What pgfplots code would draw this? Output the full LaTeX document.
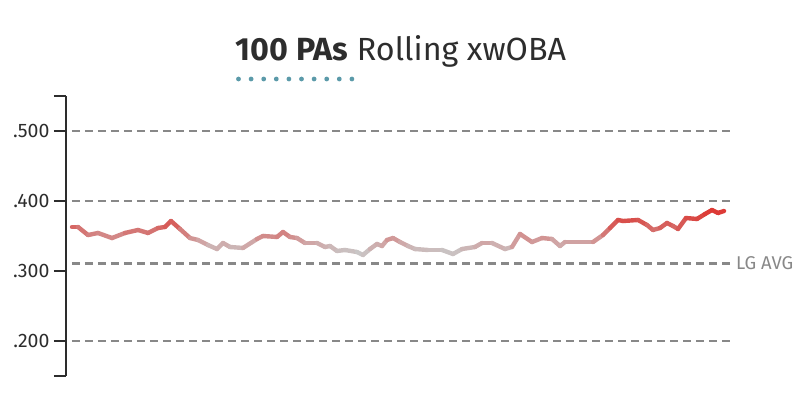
\documentclass[border=0pt]{standalone}
\usepackage{pgfplots}
\pgfplotsset{compat=1.18}
\usepackage{fontspec}
\setmainfont{Fira Sans}
\definecolor{txt}{RGB}{45,45,45}
\definecolor{grd}{RGB}{136,136,136}
\definecolor{dotc}{RGB}{91,154,169}
\begin{document}
\begin{tikzpicture}[x=1pt,y=1pt]
\useasboundingbox (0,0) rectangle (804,410);
\node[anchor=base,text=txt,inner sep=0pt] at (401,349)
  {\resizebox{330pt}{25pt}{\textbf{100 PAs} Rolling xwOBA}};
\draw[dotc,line width=4.8pt,line cap=round,dash pattern=on 0pt off 12.6pt] (238.5,331) -- (352,331);
\begin{axis}[
  at={(66pt,34pt)}, anchor=south west,
  scale only axis, width=667pt, height=280pt,
  xmin=66, xmax=733, ymin=0.15, ymax=0.55,
  axis x line=none,
  axis y line*=left,
  y axis line style={txt,line width=1.8pt,-},
  xtick=\empty,
  ytick={0.15,0.2,0.3,0.4,0.5,0.55},
  yticklabels={,.200,.300,.400,.500,},
  tick align=outside,
  major tick length=12pt,
  ytick style={txt,line width=1.8pt},
  yticklabel style={text=txt,font=\fontsize{19.5}{19.5}\selectfont,xshift=-1pt},
  /pgf/number format/assume math mode=true,
  clip=false,
  colormap={xw}{rgb255(0cm)=(200,200,200); rgb255(1cm)=(208,165,165); rgb255(2cm)=(212,120,118); rgb255(3cm)=(216,80,76); rgb255(4cm)=(222,55,50)},
  point meta min=0.325, point meta max=0.387,
]
\addplot[grd,line width=1.5pt,dash pattern=on 8pt off 5pt,forget plot] coordinates {(72,0.5) (733,0.5)};
\addplot[grd,line width=1.5pt,dash pattern=on 8pt off 5pt,forget plot] coordinates {(72,0.4) (733,0.4)};
\addplot[grd,line width=1.5pt,dash pattern=on 8pt off 5pt,forget plot] coordinates {(72,0.2) (733,0.2)};
\addplot[grd,line width=3pt,dash pattern=on 8pt off 5pt,forget plot] coordinates {(72,0.3114) (732,0.3114)};
\addplot[mesh,line width=4.4pt,line cap=round,line join=round,point meta=y,forget plot] coordinates {
(72,0.3629) (78,0.3629) (88,0.3514) (98,0.3543) (112,0.3471) (125,0.3543)
(138,0.3586) (148,0.3543) (158,0.3614) (165,0.3629) (171,0.3714) (180,0.3600)
(190,0.3471) (198,0.3443) (208,0.3371) (217,0.3314) (223,0.3400) (230,0.3343)
(243,0.3329) (257,0.3457) (263,0.3500) (277,0.3486) (283,0.3557) (290,0.3486)
(297,0.3471) (305,0.3400) (317,0.3400) (325,0.3343) (330,0.3357) (337,0.3286)
(345,0.3300) (357,0.3271) (363,0.3229) (370,0.3314) (377,0.3386) (382,0.3357)
(387,0.3443) (393,0.3471) (400,0.3414) (408,0.3357) (415,0.3314) (428,0.3300)
(442,0.3300) (453,0.3243) (462,0.3314) (475,0.3343) (482,0.3400) (492,0.3400)
(505,0.3314) (512,0.3343) (520,0.3529) (532,0.3414) (542,0.3471) (552,0.3457)
(560,0.3357) (565,0.3414) (580,0.3414) (593,0.3414) (603,0.3514) (610,0.3614)
(618,0.3729) (623,0.3714) (638,0.3729) (647,0.3657) (653,0.3586) (660,0.3614)
(667,0.3686) (673,0.3643) (678,0.3600) (686,0.3757) (697,0.3743) (705,0.3814)
(712,0.3871) (718,0.3829) (724,0.3857)
};
\end{axis}
\node[anchor=west,text=grd,inner sep=0pt,font=\fontsize{18.5}{18.5}\selectfont] at (736,147) {LG AVG};
\end{tikzpicture}
\end{document}
